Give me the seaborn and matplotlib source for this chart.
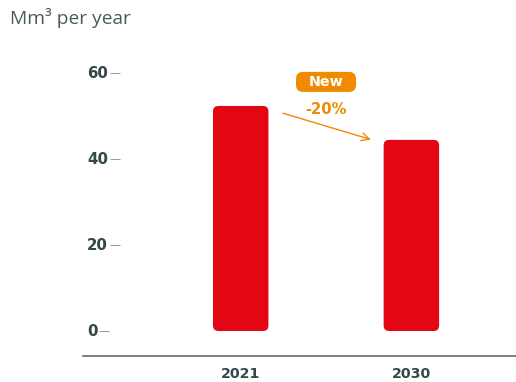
import matplotlib
matplotlib.use("Agg")
import matplotlib.pyplot as plt
import seaborn as sns
import pandas as pd
from matplotlib.patches import FancyBboxPatch

years = ["2021", "2030"]
volumes = [52.4, 44.5]
y_ticks = [0, 20, 40, 60]
unit_label = "Mm³ per year"
badge_text = "New"
change_text = "-20%"

RED = "#e30613"
ORANGE = "#f08a00"
DARK = "#34474b"
GREY = "#6d7a7d"

sns.set_style("white")
plt.rcParams["font.family"] = ["DejaVu Sans"]

W, H = 516, 382
fig = plt.figure(figsize=(W / 100, H / 100), dpi=100)
ax = fig.add_axes([83 / W, (H - 355.7) / H, (W - 83) / W, (355.7 - 60) / H])

df = pd.DataFrame({"year": years, "volume": volumes})
sns.barplot(data=df, x="year", y="volume", color=RED, width=0.325, saturation=1, ax=ax)

ax.set_xlim(-0.924, 1.613)
ax.set_ylim(-5.75, 63.1)


def px_per_unit(ax):
    p0 = ax.transData.transform((0, 0))
    p1 = ax.transData.transform((1, 1))
    return p1[0] - p0[0], p1[1] - p0[1]


ppx, ppy = px_per_unit(ax)

# swap seaborn's square bars for rounded ones
r = 5.5
for bar in list(ax.patches):
    x, y = bar.get_x(), bar.get_y()
    w, h = bar.get_width(), bar.get_height()
    rb = FancyBboxPatch((x, y), w, h,
                        boxstyle=f"round,pad=0,rounding_size={r / ppx}",
                        mutation_aspect=ppx / ppy, fc=RED, ec="none")
    bar.remove()
    ax.add_patch(rb)

# axes styling
for s in ["top", "right", "left"]:
    ax.spines[s].set_visible(False)
ax.spines["bottom"].set_color(GREY)
ax.spines["bottom"].set_linewidth(1.3)
ax.set_xlabel("")
ax.set_ylabel("")
ax.set_yticks([])
ax.tick_params(axis="x", length=0, pad=8)
for lab in ax.get_xticklabels():
    lab.set_fontweight("bold")
    lab.set_fontsize(10.2)
    lab.set_color(DARK)

# y labels with trailing dash
lx = (87 - 83) / ((W - 83))
for v in y_ticks:
    t = ax.text(lx, v, str(v), transform=ax.get_yaxis_transform(),
                ha="left", va="center", fontsize=10.8, fontweight="bold", color=DARK)
    ax.annotate("—", xy=(1, 0.5), xycoords=t, xytext=(1, 0), textcoords="offset points",
                ha="left", va="center", fontsize=8, color="#7b8a8c")

# unit label
fig.text(10 / W, 1 - 18 / H, unit_label, ha="left", va="center",
         fontsize=13.8, color="#4a5a5c", family=["Open Sans", "DejaVu Sans"])

# badge and change annotation
mid = 0.5
bw, bh = 60 / ppx, 20 / ppy
by = 58.0
badge = FancyBboxPatch((mid - bw / 2, by - bh / 2), bw, bh,
                       boxstyle=f"round,pad=0,rounding_size={7 / ppx}",
                       mutation_aspect=ppx / ppy, fc=ORANGE, ec="none")
ax.add_patch(badge)
ax.text(mid, by, badge_text, ha="center", va="center", color="white",
        fontsize=10.3, fontweight="bold")
ax.text(mid, 51.6, change_text, ha="center", va="center", color=ORANGE,
        fontsize=10.6, fontweight="bold")
ax.annotate("", xy=(1 - 0.222, volumes[1] - 0.1), xytext=(0.232, volumes[0] - 1.5),
            arrowprops=dict(arrowstyle="->", color=ORANGE, lw=1, mutation_scale=14))

fig.savefig("out.png", dpi=100)
